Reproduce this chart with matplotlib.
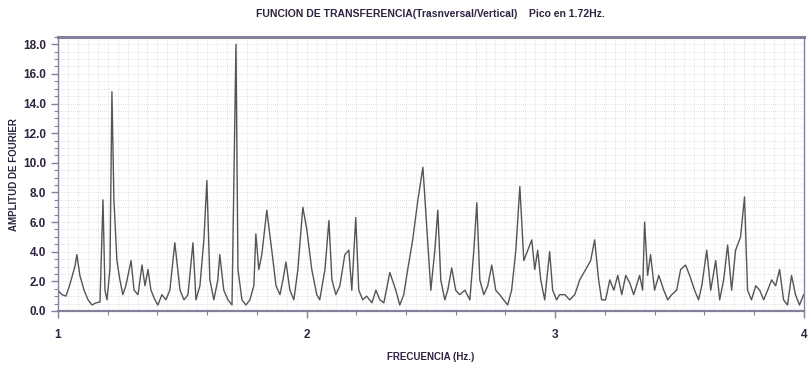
import matplotlib
matplotlib.use("Agg")
import matplotlib.pyplot as plt
from matplotlib.ticker import MultipleLocator
import numpy as np

# Transfer function (transverse / vertical), amplitude vs frequency
freq = [
    1.000, 1.016, 1.032, 1.048, 1.068, 1.076, 1.088, 1.105, 1.121, 1.137,
    1.153, 1.169, 1.181, 1.189, 1.197, 1.209, 1.217, 1.225, 1.237, 1.249,
    1.261, 1.273, 1.294, 1.306, 1.322, 1.338, 1.350, 1.362, 1.374, 1.390,
    1.402, 1.418, 1.434, 1.450, 1.470, 1.491, 1.507, 1.523, 1.543, 1.555,
    1.571, 1.587, 1.599, 1.611, 1.627, 1.643, 1.651, 1.667, 1.684, 1.700,
    1.716, 1.724, 1.740, 1.756, 1.772, 1.788, 1.796, 1.808, 1.820, 1.840,
    1.860, 1.877, 1.893, 1.905, 1.917, 1.933, 1.949, 1.965, 1.985, 2.001,
    2.021, 2.041, 2.053, 2.074, 2.090, 2.102, 2.118, 2.134, 2.154, 2.170,
    2.182, 2.198, 2.210, 2.226, 2.242, 2.263, 2.279, 2.295, 2.311, 2.335,
    2.359, 2.375, 2.391, 2.407, 2.427, 2.448, 2.468, 2.484, 2.500, 2.516,
    2.528, 2.540, 2.556, 2.568, 2.584, 2.600, 2.616, 2.637, 2.657, 2.673,
    2.685, 2.697, 2.713, 2.729, 2.745, 2.761, 2.777, 2.793, 2.809, 2.825,
    2.842, 2.858, 2.874, 2.906, 2.918, 2.930, 2.942, 2.958, 2.978, 2.990,
    3.006, 3.018, 3.039, 3.059, 3.079, 3.099, 3.123, 3.143, 3.159, 3.175,
    3.187, 3.203, 3.220, 3.236, 3.252, 3.268, 3.284, 3.300, 3.316, 3.340,
    3.352, 3.360, 3.372, 3.384, 3.400, 3.417, 3.437, 3.453, 3.469, 3.489,
    3.505, 3.525, 3.541, 3.561, 3.577, 3.590, 3.610, 3.626, 3.646, 3.662,
    3.678, 3.694, 3.710, 3.726, 3.746, 3.762, 3.774, 3.790, 3.807, 3.823,
    3.839, 3.855, 3.871, 3.887, 3.903, 3.919, 3.935, 3.951, 3.967, 3.983,
    4.000,
]
amp = [
    1.4, 1.1, 1.0, 1.8, 3.0, 3.8, 2.4, 1.4, 0.75, 0.4,
    0.55, 0.6, 7.5, 1.4, 0.75, 2.8, 14.8, 7.5, 3.4, 2.1,
    1.1, 1.7, 3.4, 1.4, 1.1, 3.1, 1.7, 2.8, 1.4, 0.75,
    0.4, 1.1, 0.75, 1.4, 4.6, 1.4, 0.75, 1.1, 4.6, 0.75,
    1.7, 4.8, 8.8, 2.1, 0.75, 2.1, 3.8, 1.4, 0.75, 0.4,
    18.0, 2.8, 0.75, 0.4, 0.75, 1.7, 5.2, 2.8, 3.8, 6.8,
    4.1, 1.7, 1.1, 2.1, 3.3, 1.4, 0.75, 2.8, 7.0, 5.5,
    2.8, 1.1, 0.75, 2.8, 6.1, 2.1, 1.1, 1.7, 3.8, 4.1,
    1.4, 6.3, 1.4, 0.75, 1.0, 0.55, 1.4, 0.75, 0.55, 2.6,
    1.4, 0.4, 1.1, 2.8, 4.8, 7.5, 9.7, 5.5, 1.4, 4.1,
    6.8, 2.1, 0.75, 1.4, 2.9, 1.4, 1.1, 1.4, 0.75, 4.1,
    7.3, 2.1, 1.1, 1.7, 3.1, 1.4, 1.1, 0.75, 0.4, 1.4,
    4.1, 8.4, 3.4, 4.8, 2.8, 4.1, 2.1, 0.75, 4.0, 1.4,
    0.75, 1.1, 1.1, 0.75, 1.1, 2.1, 2.8, 3.4, 4.8, 2.1,
    0.75, 0.75, 2.1, 1.4, 2.4, 1.1, 2.4, 1.9, 1.1, 2.4,
    1.4, 6.0, 2.4, 3.8, 1.4, 2.4, 1.4, 0.75, 1.1, 1.4,
    2.8, 3.1, 2.4, 1.4, 0.75, 1.7, 4.1, 1.4, 3.4, 0.75,
    2.1, 4.45, 1.4, 4.1, 5.0, 7.7, 1.4, 0.75, 1.7, 1.4,
    0.75, 1.4, 2.1, 1.7, 2.8, 0.75, 0.4, 2.4, 1.1, 0.4,
    1.1,
]

title = "FUNCION DE TRANSFERENCIA(Trasnversal/Vertical)    Pico en 1.72Hz."
txt_col = "#2e2340"
frame_col = "#85809a"

plt.rcParams["font.family"] = ["Liberation Sans Narrow", "Liberation Sans", "DejaVu Sans"]

fig = plt.figure(figsize=(8.11, 3.76), dpi=100)
ax = fig.add_axes([0.0715, 0.173, 0.9195, 0.729])

ax.plot(freq, amp, color="#555555", lw=1.0)

ax.set_xlim(1, 4)
ax.set_ylim(0, 18.5)

ax.xaxis.set_major_locator(MultipleLocator(1))
ax.xaxis.set_minor_locator(MultipleLocator(0.2))
ax.yaxis.set_major_locator(MultipleLocator(2))
ax.yaxis.set_minor_locator(MultipleLocator(0.5))
ax.xaxis.set_major_formatter(plt.FuncFormatter(lambda v, p: "%d" % v))
ax.yaxis.set_major_formatter(plt.FuncFormatter(lambda v, p: "%.1f" % v))

# dense dotted background grid
for gx in np.arange(1.04, 4.0, 0.04):
    ax.axvline(gx, color="#c9c9cf", lw=0.5, ls=(0, (1, 2)), zorder=0)
for gy in np.arange(0.5, 18.5, 0.5):
    ax.axhline(gy, color="#c9c9cf", lw=0.5, ls=(0, (1, 2)), zorder=0)

for s in ax.spines.values():
    s.set_color(frame_col)
    s.set_linewidth(1.0)
ax.spines["top"].set_linewidth(2.2)
ax.spines["bottom"].set_linewidth(1.6)

ax.tick_params(axis="both", which="major", colors=frame_col, length=5, width=1.0,
               labelcolor=txt_col, labelsize=8.5)
ax.tick_params(axis="both", which="minor", colors=frame_col, length=3, width=0.8)
ax.tick_params(axis="x", pad=8)
for lab in ax.get_xticklabels() + ax.get_yticklabels():
    lab.set_fontweight("bold")

ax.set_title(title, fontsize=7.5, fontweight="bold", color=txt_col, pad=14)
ax.set_xlabel("FRECUENCIA (Hz.)", fontsize=7, fontweight="bold", color=txt_col, labelpad=8)
fig.text(14 / 811, 1 - 175 / 376, "AMPLITUD DE FOURIER", rotation=90,
         ha="center", va="center", fontsize=7, fontweight="bold", color=txt_col)

fig.savefig("out.png", dpi=100)
